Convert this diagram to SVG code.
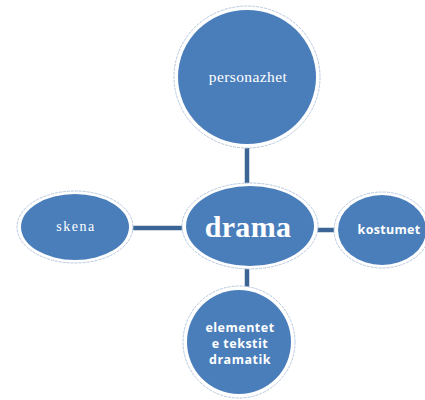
<svg xmlns="http://www.w3.org/2000/svg" width="425" height="400" viewBox="0 0 425 400">
<style>
.ring{fill:#fff;stroke:#b9c9de;stroke-width:1;stroke-dasharray:3 1}
.node{fill:#4a7ebb}
.serif{font-family:"Liberation Serif","DejaVu Serif",serif;fill:#fff;text-anchor:middle}
.sans{font-family:"Open Sans","Liberation Sans",sans-serif;font-weight:bold;fill:#fff;text-anchor:middle}
.conn{stroke:#3a6595;stroke-width:4.5;fill:none}
</style>
<rect width="425" height="400" fill="#fff"/>
<g id="connectors">
<line class="conn" x1="247" y1="148" x2="247" y2="186"/>
<line class="conn" x1="130" y1="228" x2="184" y2="228"/>
<line class="conn" x1="316" y1="230" x2="337" y2="230"/>
<line class="conn" x1="247" y1="266" x2="247" y2="292"/>
</g>
<g id="personazhet">
<ellipse class="ring" cx="247" cy="77" rx="73" ry="71"/>
<ellipse class="node" cx="247" cy="77" rx="69" ry="67"/>
<text class="serif" x="248" y="82" font-size="15.5" letter-spacing="0.4">personazhet</text>
</g>
<g id="drama">
<ellipse class="ring" cx="250" cy="226" rx="68" ry="43"/>
<ellipse class="node" cx="250" cy="226" rx="64" ry="40"/>
<text class="serif" x="248" y="237" font-size="30" font-weight="bold" letter-spacing="0.3">drama</text>
</g>
<g id="skena">
<ellipse class="ring" cx="75" cy="227" rx="58" ry="36"/>
<ellipse class="node" cx="75" cy="227" rx="54" ry="33"/>
<text class="serif" x="76" y="231" font-size="14" letter-spacing="1.5">skena</text>
</g>
<g id="kostumet">
<ellipse class="ring" cx="382" cy="230" rx="48" ry="38"/>
<ellipse class="node" cx="382" cy="230" rx="44" ry="35"/>
<text class="sans" x="389" y="234" font-size="12.5" letter-spacing="0.3">kostumet</text>
</g>
<g id="elementet">
<ellipse class="ring" cx="239" cy="342" rx="56" ry="56"/>
<ellipse class="node" cx="239" cy="342" rx="52" ry="52"/>
<text class="sans" font-size="12.5" letter-spacing="0.5"><tspan x="240" y="332">elementet</tspan><tspan x="240" y="348">e tekstit</tspan><tspan x="240" y="364">dramatik</tspan></text>
</g>
</svg>
